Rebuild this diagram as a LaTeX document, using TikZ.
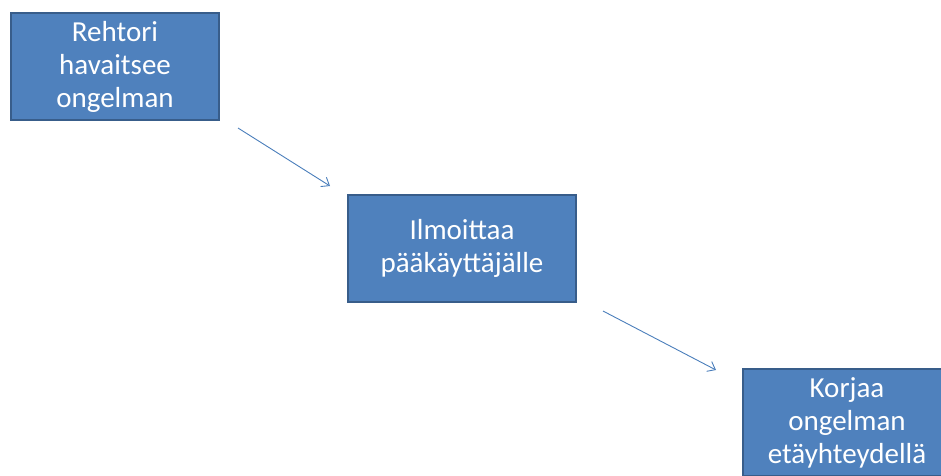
\documentclass[tikz,border=0pt]{standalone}
\usepackage{fontspec}
\setmainfont{Carlito}
\usetikzlibrary{arrows.meta}
\definecolor{boxfill}{HTML}{4F81BD}
\definecolor{boxline}{HTML}{385D8A}
\definecolor{arrowc}{HTML}{4A7EBB}
\begin{document}
\begin{tikzpicture}[x=1pt,y=-1pt,
  procbox/.style={draw=boxline,line width=2pt,fill=boxfill,text=white,align=center,
    font=\fontsize{29}{33}\selectfont,inner sep=0pt,anchor=north west},
  flow/.style={draw=arrowc,line width=0.9pt,-{Straight Barb[length=7pt,width=11pt]}}]
\useasboundingbox (0,0) rectangle (941,475);
\node[procbox,minimum width=208pt,minimum height=107pt] (a) at (10,12) {Rehtori\\havaitsee\\ongelman};
\node[procbox,minimum width=228pt,minimum height=107pt] (b) at (347,194) {Ilmoittaa\\pääkäyttäjälle};
\node[procbox,minimum width=208pt,minimum height=107pt] (c) at (742,368) {Korjaa\\ongelman\\etäyhteydellä};
\coordinate (a1) at (238,128);
\coordinate (a2) at (330,186);
\coordinate (b1) at (603,311);
\coordinate (b2) at (716,370);
\draw[flow] (a1) -- (a2);
\draw[flow] (b1) -- (b2);
\end{tikzpicture}
\end{document}
